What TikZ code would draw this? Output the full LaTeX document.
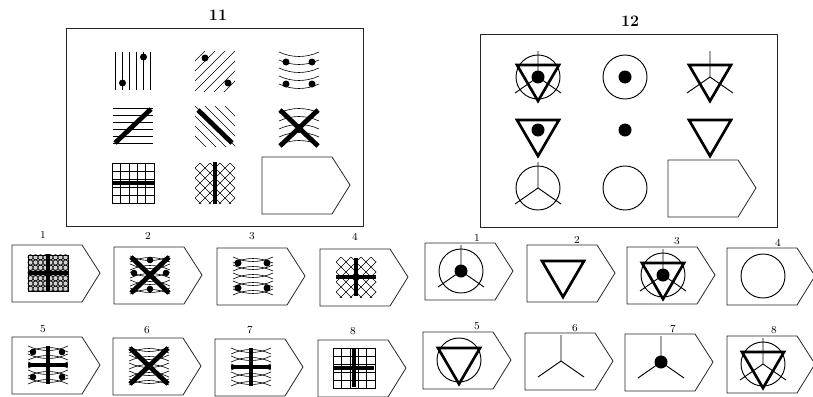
\documentclass[tikz,border=0pt]{standalone}
\usetikzlibrary{positioning}

\begin{document}
\begin{tikzpicture}[x=0.75pt, y=-0.75pt,
  frame/.style={draw=black!85, line width=0.6pt},
  cardline/.style={draw=black!85, line width=0.6pt},
  hair/.style={line width=0.45pt},
  bar/.style={line width=3.6pt},
  rim/.style={line width=0.7pt},
  wedge/.style={line width=2pt, line join=miter},
  num/.style={font=\footnotesize},
  title/.style={font=\bfseries\large},
  pics/card/.style={code={\draw[cardline] (0,0) -- (70,0) -- (88,28) -- (70,57) -- (0,57) -- cycle;}},
  % backgrounds of the figures in set 11
  pics/vlines/.style={code={\foreach \u in {-17.5,-10.5,...,17.5} \draw[hair] (\u,-19) -- (\u,19);}},
  pics/hlines/.style={code={\foreach \v in {-17.5,-10.5,...,17.5} \draw[hair] (-20,\v) -- (20,\v);}},
  pics/slashes/.style={code={\clip (-20,-20) rectangle (20,20);
      \foreach \c in {-30,-20,...,30} \draw[hair] (\c-25,25) -- (\c+25,-25);}},
  pics/backslashes/.style={code={\clip (-20,-20) rectangle (20,20);
      \foreach \c in {-30,-20,...,30} \draw[hair] (\c-25,-25) -- (\c+25,25);}},
  pics/mesh/.style={code={\clip (-20,-20) rectangle (20,20);
      \foreach \c in {-35,-25,...,35} \draw[hair] (\c-25,25) -- (\c+25,-25) (\c-25,-25) -- (\c+25,25);}},
  pics/smiles/.style={code={\foreach \v in {-16,-8,...,16}
      \draw[hair] (-20,\v-3) .. controls (-7,\v+3) and (7,\v+3) .. (20,\v-3);}},
  pics/frowns/.style={code={\foreach \v in {-16,-8,...,16}
      \draw[hair] (-20,\v+3) .. controls (-7,\v-3) and (7,\v-3) .. (20,\v+3);}},
  pics/lenses/.style={code={\pic {smiles}; \pic {frowns};}},
  pics/grid/.style={code={\draw[hair] (-21,-20) rectangle (21,20);
      \foreach \u in {-12.6,-4.2,4.2,12.6} \draw[hair] (\u,-20) -- (\u,20);
      \foreach \v in {-12,-4,4,12} \draw[hair] (-21,\v) -- (21,\v);}},
  pics/beads/.style={code={\fill[black!18] (-20,-18) rectangle (20,18);
      \foreach \u in {-17.5,-12.5,...,17.5} \foreach \v in {-15.75,-10.5,...,15.75}
        \draw[hair] (\u,\v) circle (2.6);
      \draw[hair] (-20,-18) rectangle (20,18);}},
  pics/plus/.style={code={\draw[bar] (-20,0) -- (20,0) (0,-19) -- (0,19);}},
  pics/cross/.style={code={\draw[bar] (-19,-18) -- (19,18) (-19,18) -- (19,-18);}},
  % parts of the figures in set 12
  pics/ring/.style={code={\draw[rim] (0,0) circle (22);}},
  pics/tri/.style={code={\draw[wedge] (-21,-12) -- (21,-12) -- (0,24) -- cycle;}},
  pics/blob/.style={code={\fill (0,0) circle (6.5);}},
  pics/spokes/.style={code={\draw[rim] (0,0) -- (0,-26) (0,0) -- (-23,16) (0,0) -- (23,16);}}]

  \useasboundingbox (0,0) rectangle (813,396);

  % set 11
  \node[title] (t11) at (218,15) {11};
  \draw[frame] (66,28) rectangle (363,226);

  \pic at (133,71) {vlines};
  \fill (122.5,83) circle (3.5) (143.5,57) circle (3.5);
  \pic at (215,71) {slashes};
  \fill (205,58) circle (3.5) (228,83) circle (3.5);
  \pic at (299,71) {smiles};
  \fill (286,62) circle (3.5) (312,62) circle (3.5) (286,84) circle (3.5) (312,84) circle (3.5);

  \pic at (133,126) {hlines};
  \draw[bar] (115,143) -- (151,109);
  \pic at (215,126) {backslashes};
  \draw[bar] (198,110) -- (232,143);
  \pic at (299,126) {frowns};
  \pic at (299,128) {cross};

  \pic at (133,183) {grid};
  \draw[bar] (112,183) -- (154,183);
  \pic at (215,183) {mesh};
  \draw[bar] (215,162) -- (215,204);
  \pic at (262,157) {card};

  % set 12
  \node[title] (t12) at (630,21) {12};
  \draw[frame] (480,34) rectangle (777,227);

  \pic at (538,77) {ring}; \pic at (538,77) {tri};
  \pic at (538,77) {blob}; \pic at (538,77) {spokes};
  \pic at (625,77) {ring}; \pic at (625,77) {blob};
  \pic at (710,77) {tri}; \pic at (710,77) {spokes};

  \pic at (538,132) {tri}; \pic at (538,130) {blob};
  \pic at (625,130) {blob};
  \pic at (710,132) {tri};

  \pic at (538,188) {ring}; \pic at (538,188) {spokes};
  \pic at (625,188) {ring};
  \pic at (668,160) {card};

  % answers to 11
  \foreach \i/\x/\y in {1/43/235, 2/148/236, 3/252/236, 4/355/237,
                        5/43/329, 6/147/330, 7/250/330, 8/353/331}
    \node[num] (a\i) at (\x,\y) {\i};
  \foreach \x/\y in {12/245, 114/247, 217/248, 320/249, 12/337, 113/338, 215/339, 318/340}
    \pic at (\x,\y) {card};

  \pic at (48,273) {beads}; \pic at (48,273) {plus};
  \pic at (150,275) {lenses}; \pic at (150,275) {cross};
  \fill (150,260) circle (3.3) (134,273) circle (3.3) (166,273) circle (3.3) (150,289) circle (3.3);
  \pic at (253,276) {lenses};
  \fill (238,263) circle (3.5) (267,263) circle (3.5) (238,288) circle (3.5) (267,288) circle (3.5);
  \pic at (356,277) {mesh}; \pic at (356,277) {plus};

  \pic at (48,365) {lenses}; \pic at (48,365) {plus};
  \fill (33,352) circle (3.3) (62,352) circle (3.3) (33,377) circle (3.3) (62,377) circle (3.3);
  \pic at (149,366) {lenses}; \pic at (149,366) {cross};
  \pic at (251,367) {lenses}; \pic at (251,367) {plus};
  \pic at (354,368) {grid}; \pic at (354,368) {plus};

  % answers to 12
  \foreach \i/\x/\y in {1/477/238, 2/577/240, 3/677/241, 4/778/243,
                        5/477/326, 6/575/328, 7/673/329, 8/774/330}
    \node[num] (b\i) at (\x,\y) {\i};
  \foreach \x/\y in {425/243, 527/245, 627/247, 727/248, 423/332, 525/333, 625/334, 727/336}
    \pic at (\x,\y) {card};

  \pic at (461,271) {ring}; \pic at (461,271) {blob}; \pic at (461,271) {spokes};
  \pic at (563,273) {tri};
  \pic at (663,275) {ring}; \pic at (663,275) {tri};
  \pic at (663,275) {blob}; \pic at (663,275) {spokes};
  \pic at (763,276) {ring};
  \pic at (459,360) {ring}; \pic at (459,360) {tri};
  \pic at (561,361) {spokes};
  \pic at (661,362) {blob}; \pic at (661,362) {spokes};
  \pic at (763,364) {ring}; \pic at (763,364) {tri}; \pic at (763,364) {spokes};
\end{tikzpicture}
\end{document}
